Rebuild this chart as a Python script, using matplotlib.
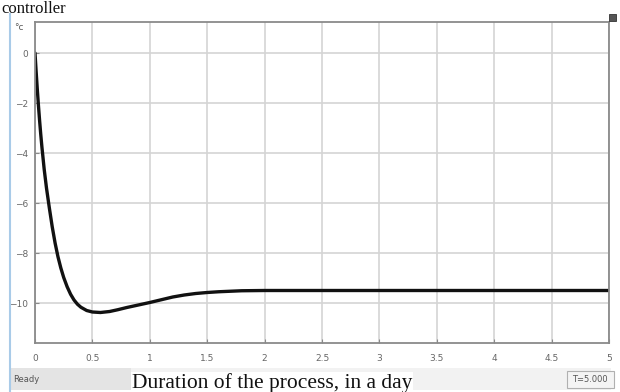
import matplotlib.pyplot as plt
from matplotlib.patches import Rectangle

# scope trace: temperature (deg C) vs time (days)
t_days = [0.0, 0.01, 0.02, 0.03, 0.04, 0.05, 0.06, 0.08, 0.10, 0.125, 0.15,
          0.175, 0.20, 0.225, 0.25, 0.28, 0.31, 0.34, 0.37, 0.40, 0.45,
          0.50, 0.57, 0.65, 0.72, 0.80, 0.90, 1.0, 1.1, 1.2, 1.3, 1.4, 1.5,
          1.6, 1.7, 1.8, 2.0, 2.5, 3.0, 4.0, 5.0]
temp = [0.0, -0.75, -1.45, -2.1, -2.7, -3.25, -3.75, -4.65, -5.4, -6.2, -6.95,
        -7.6, -8.15, -8.6, -8.98, -9.35, -9.65, -9.88, -10.05, -10.17, -10.3,
        -10.36, -10.38, -10.34, -10.27, -10.18, -10.08, -9.98, -9.87, -9.76,
        -9.68, -9.62, -9.58, -9.55, -9.53, -9.51, -9.5, -9.5, -9.5, -9.5,
        -9.5]

x_ticks = [0, 0.5, 1, 1.5, 2, 2.5, 3, 3.5, 4, 4.5, 5]
x_labels = ['0', '0.5', '1', '1.5', '2', '2.5', '3', '3.5', '4', '4.5', '5']
y_ticks = [0, -2, -4, -6, -8, -10]

W, H = 620, 392
fig = plt.figure(figsize=(W / 100, H / 100), dpi=100)
fig.patch.set_facecolor('white')


def fx(x):
    return x / W


def fy(y):
    return 1 - y / H


ax = fig.add_axes([fx(35), fy(343), fx(609) - fx(35), fy(22) - fy(343)])
ax.plot(t_days, temp, color='#111111', lw=2.4, solid_capstyle='round',
        solid_joinstyle='round')
ax.set_xlim(0, 5)
ax.set_ylim(-11.6, 1.24)
ax.set_xticks(x_ticks)
ax.set_xticklabels(x_labels)
ax.set_yticks(y_ticks)
ax.grid(True, color='#d4d4d4', lw=1.2)
for s in ax.spines.values():
    s.set_color('#8a8a8a')
    s.set_linewidth(1.3)
ax.tick_params(direction='in', length=3, color='#8a8a8a', labelsize=6.5,
               labelcolor='#666666')
ax.tick_params(axis='x', pad=8)
ax.tick_params(axis='y', pad=5)

# window frame and status bar
fig.add_artist(plt.Line2D([fx(10), fx(10)], [fy(14), fy(392)], color='#a9cbe8', lw=1.5))
fig.add_artist(Rectangle((fx(11), fy(390)), fx(120), fy(368) - fy(390),
                         facecolor='#e4e4e4', edgecolor='none'))
fig.add_artist(Rectangle((fx(131), fy(390)), fx(480), fy(368) - fy(390),
                         facecolor='#f2f2f2', edgecolor='none'))
fig.add_artist(Rectangle((fx(567), fy(388)), fx(47), fy(371) - fy(388),
                         facecolor='#f4f4f4', edgecolor='#b0b0b0', lw=0.8))
fig.add_artist(Rectangle((fx(609), fy(21)), fx(7), fy(14) - fy(21),
                         facecolor='#555555', edgecolor='#333333', lw=0.6))
fig.text(fx(13), fy(379), 'Ready', fontsize=6, color='#555555', va='center')
fig.text(fx(590), fy(380), 'T=5.000', fontsize=6, color='#555555',
         va='center', ha='center')
fig.text(fx(14), fy(27), '°c', fontsize=6.5, color='#555555', va='center')

# caption and heading text
fig.text(fx(272), fy(388), 'Duration of the process, in a day',
         family='Liberation Serif', fontsize=15.5, color='#111111',
         ha='center', va='baseline',
         bbox=dict(facecolor='white', edgecolor='none', pad=1))
fig.text(fx(1), fy(13), 'controller', family='Liberation Serif',
         fontsize=12, color='#111111', va='baseline')

fig.savefig('out.png', dpi=100)
